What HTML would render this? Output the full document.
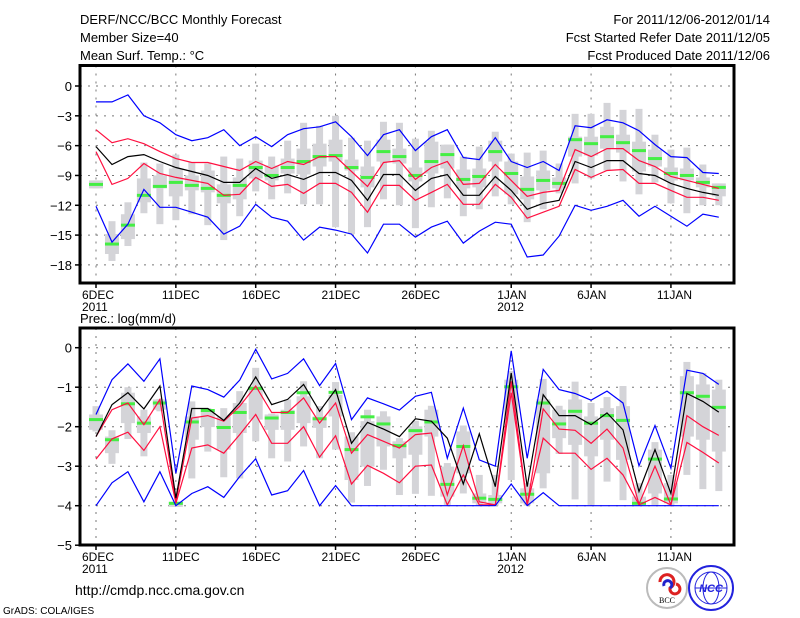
<!DOCTYPE html>
<html><head><meta charset="utf-8"><style>
body{margin:0;background:#fff;}
svg{display:block;font-family:"Liberation Sans",sans-serif;}
</style></head><body>
<svg id="chart" width="800" height="618" viewBox="0 0 800 618">
<g font-size="13" fill="#000">
<text x="80" y="24">DERF/NCC/BCC Monthly Forecast</text>
<text x="80" y="42">Member Size=40</text>
<text x="80" y="60">Mean Surf. Temp.: °C</text>
<text x="770" y="24" text-anchor="end">For 2011/12/06-2012/01/14</text>
<text x="770" y="42" text-anchor="end">Fcst Started Refer Date 2011/12/05</text>
<text x="770" y="60" text-anchor="end">Fcst Produced Date 2011/12/06</text>
<text x="80" y="323">Prec.: log(mm/d)</text>
<text x="75" y="595" font-size="14">http://cmdp.ncc.cma.gov.cn</text>
<text x="3" y="614" font-size="10">GrADS: COLA/IGES</text>
</g>
<g>
<circle cx="667" cy="588" r="20" fill="#fff" stroke="#bbb" stroke-width="2"/>
<path d="M660 582 a7 7 0 1 1 10 6 a5 5 0 1 0 6 -4" fill="none" stroke="#d22" stroke-width="3"/>
<path d="M664 586 a4 4 0 1 1 6 2" fill="none" stroke="#22c" stroke-width="3"/>
<text x="667" y="603" font-size="8" text-anchor="middle" font-family="Liberation Serif,serif">BCC</text>
</g>
<g>
<circle cx="711" cy="588" r="22" fill="#fff" stroke="#22d" stroke-width="2"/>
<ellipse cx="711" cy="588" rx="16" ry="16" fill="none" stroke="#22d" stroke-width="1"/>
<ellipse cx="711" cy="588" rx="8" ry="16" fill="none" stroke="#22d" stroke-width="1"/>
<line x1="695" y1="588" x2="727" y2="588" stroke="#22d"/>
<text x="711" y="592" font-size="11" font-style="italic" font-weight="bold" fill="#22d" text-anchor="middle">NCC</text>
</g>
<g id="plots"></g>
</svg>
<script>
// ---------- data ----------
const dayLabels = ["6DEC","11DEC","16DEC","21DEC","26DEC","1JAN","6JAN","11JAN"];
const dayLabelIdx = [0,5,10,15,20,26,31,36];
const yearLabels = ["2011","2012"];
const yearLabelIdx = [0,26];
const tempTicks = [0,-3,-6,-9,-12,-15,-18];
const precTicks = [0,-1,-2,-3,-4,-5];

const tMax = [-1.6,-1.6,-0.9,-3.0,-3.7,-4.9,-5.5,-5.2,-4.4,-6.0,-5.1,-6.1,-4.9,-4.3,-4.1,-3.6,-5.1,-7.0,-4.9,-4.4,-6.5,-5.1,-4.4,-7.2,-7.4,-5.2,-7.6,-8.2,-7.6,-8.5,-4.0,-4.2,-3.4,-3.7,-4.5,-5.9,-7.1,-7.2,-8.7,-8.8];
const tHi = [-4.4,-5.7,-5.3,-5.8,-6.6,-7.3,-7.7,-7.7,-8.1,-8.5,-7.6,-8.3,-7.6,-7.9,-7.1,-7.1,-8.6,-10.1,-7.7,-7.5,-9.4,-8.2,-7.6,-9.9,-9.8,-7.9,-9.5,-11.1,-10.7,-10.5,-6.4,-7.1,-6.3,-6.3,-7.5,-8.1,-9.1,-9.5,-9.9,-10.3];
const tMean = [-6.1,-7.9,-7.1,-6.9,-7.6,-8.2,-8.6,-9.0,-9.7,-9.7,-8.3,-9.3,-8.9,-9.4,-8.7,-8.7,-9.5,-11.5,-8.9,-8.9,-10.5,-9.3,-8.9,-11.0,-11.0,-9.1,-10.5,-12.4,-11.8,-11.5,-7.6,-8.2,-7.5,-7.5,-8.8,-9.0,-9.8,-10.3,-10.7,-11.0];
const tLo = [-6.6,-9.9,-9.3,-7.8,-8.8,-9.2,-9.5,-9.8,-11.0,-10.9,-9.2,-10.1,-9.9,-10.8,-9.8,-9.8,-10.7,-12.7,-10.0,-10.0,-11.5,-10.7,-9.9,-11.9,-11.9,-9.9,-11.2,-13.3,-12.7,-12.1,-8.4,-9.2,-8.5,-8.4,-9.8,-9.8,-10.5,-11.2,-11.2,-11.5];
const tMin = [-12.1,-15.7,-13.9,-10.4,-12.2,-12.2,-12.7,-13.2,-14.9,-14.1,-11.9,-13.2,-13.6,-15.5,-14.2,-14.5,-14.9,-16.8,-13.9,-13.9,-15.2,-14.2,-13.6,-15.8,-14.6,-13.7,-13.9,-17.2,-17.0,-15.1,-12.0,-12.5,-12.1,-11.5,-13.1,-12.1,-13.1,-14.1,-12.9,-13.2];
const tObs = [-9.9,-15.9,-14.0,-11.0,-10.1,-9.7,-10.0,-10.3,-11.0,-10.0,-8.2,-9.0,-8.2,-7.6,-7.1,-7.0,-8.2,-9.2,-6.6,-7.1,-9.0,-7.6,-6.9,-9.4,-9.1,-6.6,-8.8,-10.4,-9.5,-9.8,-5.4,-5.8,-5.1,-5.7,-6.5,-7.3,-8.8,-9.0,-9.7,-10.2];
const tBarTop = [-9.5,-13.6,-11.7,-7.7,-7.8,-6.9,-7.7,-7.8,-7.1,-7.3,-5.8,-7.1,-5.5,-3.7,-4.0,-3.0,-5.2,-5.5,-3.6,-3.7,-5.3,-4.5,-5.9,-7.1,-6.1,-4.6,-6.8,-6.7,-6.5,-7.8,-2.8,-2.8,-1.7,-2.4,-2.3,-4.9,-6.4,-6.2,-7.9,-9.8];
const tBarBot = [-10.3,-17.6,-16.1,-12.8,-13.9,-13.5,-12.9,-14.0,-15.5,-13.1,-10.6,-11.4,-10.8,-11.9,-11.9,-14.2,-14.9,-14.2,-11.4,-12.0,-14.3,-12.2,-11.3,-13.1,-12.4,-11.1,-11.9,-13.7,-12.4,-10.8,-9.8,-9.3,-8.5,-9.6,-10.9,-9.7,-11.8,-12.8,-12.0,-12.0];
const tBoxTop = [-9.5,-14.9,-12.9,-9.3,-9.0,-8.3,-9.0,-8.5,-9.9,-9.2,-7.5,-8.0,-7.3,-6.3,-5.8,-5.4,-7.4,-8.1,-5.4,-6.3,-8.2,-5.6,-5.9,-8.4,-8.3,-5.5,-7.6,-9.1,-8.5,-9.2,-5.1,-5.1,-4.1,-4.9,-5.6,-6.4,-8.2,-8.3,-9.2,-9.8];
const tBoxBot = [-10.3,-16.9,-15.4,-11.7,-10.3,-11.1,-10.5,-10.7,-11.8,-11.4,-9.3,-9.5,-8.8,-8.9,-8.1,-7.6,-8.5,-10.2,-7.6,-7.8,-9.6,-8.8,-8.3,-10.3,-10.2,-7.6,-10.9,-11.4,-10.5,-10.3,-7.1,-7.0,-6.3,-6.7,-8.6,-8.1,-9.5,-9.5,-10.2,-11.1];

const pMax = [-1.69,-0.81,-0.41,-0.85,-0.28,-3.18,-0.97,-1.06,-1.25,-0.82,-0.04,-0.79,-0.65,-0.28,-0.96,-0.4,-1.82,-1.27,-1.42,-1.58,-1.23,-1.13,-2.8,-1.53,-2.84,-3.0,-0.08,-2.8,-0.55,-1.06,-1.16,-1.33,-1.1,-1.4,-2.99,-1.97,-3.05,-0.57,-0.65,-0.93];
const pHi = [-2.25,-1.57,-1.4,-1.95,-1.31,-3.9,-1.78,-1.72,-1.86,-1.48,-0.97,-1.64,-1.64,-1.27,-1.91,-1.4,-2.67,-2.2,-2.37,-2.54,-2.2,-2.16,-3.73,-2.48,-3.9,-3.98,-0.85,-3.98,-1.55,-2.06,-2.09,-2.42,-2.06,-2.54,-3.96,-3.0,-3.98,-1.72,-2.0,-2.22];
const pMean = [-2.25,-1.44,-1.14,-1.55,-0.97,-3.81,-1.54,-1.54,-1.84,-1.4,-0.74,-1.44,-1.31,-0.93,-1.61,-1.06,-2.42,-1.89,-2.06,-2.25,-1.8,-1.86,-2.29,-3.45,-2.18,-3.52,-0.64,-3.52,-1.19,-1.72,-1.72,-1.95,-1.65,-2.08,-3.64,-2.58,-3.69,-1.16,-1.36,-1.63];
const pLo = [-2.82,-2.31,-2.14,-2.6,-2.0,-3.94,-2.54,-2.46,-2.67,-2.2,-1.69,-2.42,-2.42,-2.0,-2.77,-2.23,-3.45,-2.98,-3.18,-3.42,-3.0,-2.97,-3.98,-3.22,-3.98,-3.98,-1.14,-3.98,-2.29,-2.67,-2.67,-3.08,-2.8,-3.22,-3.98,-3.79,-3.98,-2.4,-2.65,-2.92];
const pMin = [-4,-3.42,-3.14,-3.9,-3.14,-4,-3.69,-3.52,-3.79,-3.26,-2.81,-3.73,-3.62,-3.11,-4,-3.49,-4,-4,-4,-4,-4,-4,-4,-4,-4,-4,-3.45,-4,-3.67,-4,-4,-4,-4,-4,-4,-4,-4,-4,-4,-4];
const pObs = [-1.82,-2.33,-1.42,-1.91,-1.4,-3.94,-1.88,-1.59,-2.02,-1.64,-1.03,-1.78,-1.64,-1.14,-1.8,-1.13,-2.58,-1.75,-1.93,-2.48,-2.1,-1.88,-3.46,-2.5,-3.81,-3.84,-0.99,-3.71,-1.4,-1.93,-1.61,-1.91,-1.72,-1.84,-3.94,-2.82,-3.83,-1.14,-1.23,-1.51];
const pBarTop = [-1.48,-2.09,-1.0,-1.57,-1.3,-3.9,-1.36,-1.53,-1.53,-1.1,-0.51,-1.67,-1.31,-0.85,-1.48,-0.87,-2.14,-1.57,-1.61,-2.29,-1.85,-1.47,-2.92,-1.97,-3.22,-3.22,-0.59,-3.43,-0.79,-1.47,-0.86,-1.4,-1.25,-0.97,-3.43,-2.39,-3.22,-0.36,-0.64,-0.81];
const pBarBot = [-2.12,-2.94,-2.31,-2.75,-1.61,-4.03,-3.31,-2.63,-3.28,-3.31,-2.37,-2.8,-2.88,-2.5,-2.8,-2.58,-3.92,-3.5,-3.09,-3.73,-3.7,-3.75,-3.98,-3.69,-4.0,-4.0,-3.35,-4.0,-3.56,-2.69,-3.84,-3.98,-3.39,-3.86,-4.0,-3.98,-4.0,-3.22,-3.58,-3.63];
const pBoxTop = [-1.69,-2.25,-1.14,-1.74,-1.31,-3.9,-1.74,-1.61,-1.74,-1.4,-0.97,-1.69,-1.57,-1.23,-1.74,-1.19,-2.25,-1.86,-1.74,-2.37,-1.99,-1.57,-3.01,-2.12,-3.69,-3.73,-0.81,-3.56,-1.31,-1.57,-1.31,-1.74,-1.53,-1.48,-3.77,-2.58,-3.43,-0.72,-0.93,-1.06];
const pBoxBot = [-2.08,-2.67,-1.91,-2.16,-1.57,-4.03,-2.33,-2.01,-2.58,-2.16,-1.82,-2.08,-2.08,-1.91,-2.03,-1.74,-3.35,-3.01,-2.5,-2.8,-2.71,-2.25,-3.77,-3.18,-3.94,-3.94,-1.82,-3.94,-3.18,-2.29,-2.46,-2.75,-2.33,-2.84,-3.98,-3.69,-3.94,-2.25,-2.33,-2.63];

// ---------- drawing ----------
const NS="http://www.w3.org/2000/svg";
const root=document.getElementById('plots');
function mk(tag,attrs,parent){const e=document.createElementNS(NS,tag);for(const k in attrs)e.setAttribute(k,attrs[k]);(parent||root).appendChild(e);return e;}
const X0=80,X1=734;
function xDay(i){return 96+i*15.97;}

function panel(name,top,bottom,yFun,ticks,series,bars,obs){
  const g=mk('g',{});
  
  
  ticks.forEach((t)=>{
    const y=yFun(t);
    if(y>top+1&&y<bottom-1){const l=mk('line',{x1:X0,x2:X1,y1:y,y2:y,stroke:'#777','stroke-dasharray':'2,6','stroke-width':1},g);
      }
    const tk=mk('line',{x1:X0-5,x2:X0,y1:y,y2:y,stroke:'#000','stroke-width':1.5},g);
    
    const tx=mk('text',{x:X0-8,y:y+5,'font-size':13,'text-anchor':'end'},g);
    tx.textContent=(t<0?'\u2212'+(-t):String(t));
    
  });
  dayLabelIdx.forEach((d,k)=>{
    const x=xDay(d);
    const l=mk('line',{x1:x,x2:x,y1:top,y2:bottom,stroke:'#777','stroke-dasharray':'2,6','stroke-width':1},g);
    
    const tk=mk('line',{x1:x,x2:x,y1:bottom,y2:bottom+5,stroke:'#000','stroke-width':1.5},g);
    
    const tx=mk('text',{x:x-14,y:bottom+16,'font-size':12},g);
    tx.textContent=dayLabels[k];
    
  });
  yearLabelIdx.forEach((d,k)=>{
    const tx=mk('text',{x:xDay(d)-14,y:bottom+28,'font-size':12},g);
    tx.textContent=yearLabels[k];
    
  });
  bars.top.forEach((v,i)=>{
    const x=xDay(i);
    const b=mk('rect',{x:x-3.5,width:7,y:yFun(v),height:Math.max(2,yFun(bars.bot[i])-yFun(v)),fill:'#d4d4d8'},g);
    
    const bx=mk('rect',{x:x-7,width:14,y:yFun(bars.boxTop[i]),height:Math.max(2,yFun(bars.boxBot[i])-yFun(bars.boxTop[i])),fill:'#d4d4d8'},g);
    
  });
  obs.forEach((v,i)=>{
    const r=mk('rect',{x:xDay(i)-7,width:14,y:yFun(v)-1.5,height:3,fill:'#44ee44'},g);
    
  });
  series.forEach(s=>{
    const pts=s.data.map((v,i)=>xDay(i).toFixed(1)+','+yFun(v).toFixed(1)).join(' ');
    const p=mk('polyline',{points:pts,fill:'none',stroke:s.color,'stroke-width':1.2},g);
    
  });
  const f=mk('rect',{x:X0,y:top,width:X1-X0,height:bottom-top,fill:'none',stroke:'#000','stroke-width':3},g);
  
}
const yT=v=>86-9.94*v;
const yP=v=>347.7-39.5*v;
panel('temperature-panel',65.5,283,yT,tempTicks,[
  {name:'temp-max-line',data:tMax,color:'#0000ff'},
  {name:'temp-upper-line',data:tHi,color:'#ff1040'},
  {name:'temp-lower-line',data:tLo,color:'#ff1040'},
  {name:'temp-min-line',data:tMin,color:'#0000ff'},
  {name:'temp-mean-line',data:tMean,color:'#000'}],
  {top:tBarTop,bot:tBarBot,boxTop:tBoxTop,boxBot:tBoxBot},tObs);
panel('precip-panel',328,545,yP,precTicks,[
  {name:'prec-max-line',data:pMax,color:'#0000ff'},
  {name:'prec-upper-line',data:pHi,color:'#ff1040'},
  {name:'prec-lower-line',data:pLo,color:'#ff1040'},
  {name:'prec-min-line',data:pMin,color:'#0000ff'},
  {name:'prec-mean-line',data:pMean,color:'#000'}],
  {top:pBarTop,bot:pBarBot,boxTop:pBoxTop,boxBot:pBoxBot},pObs);
</script>
</body></html>
